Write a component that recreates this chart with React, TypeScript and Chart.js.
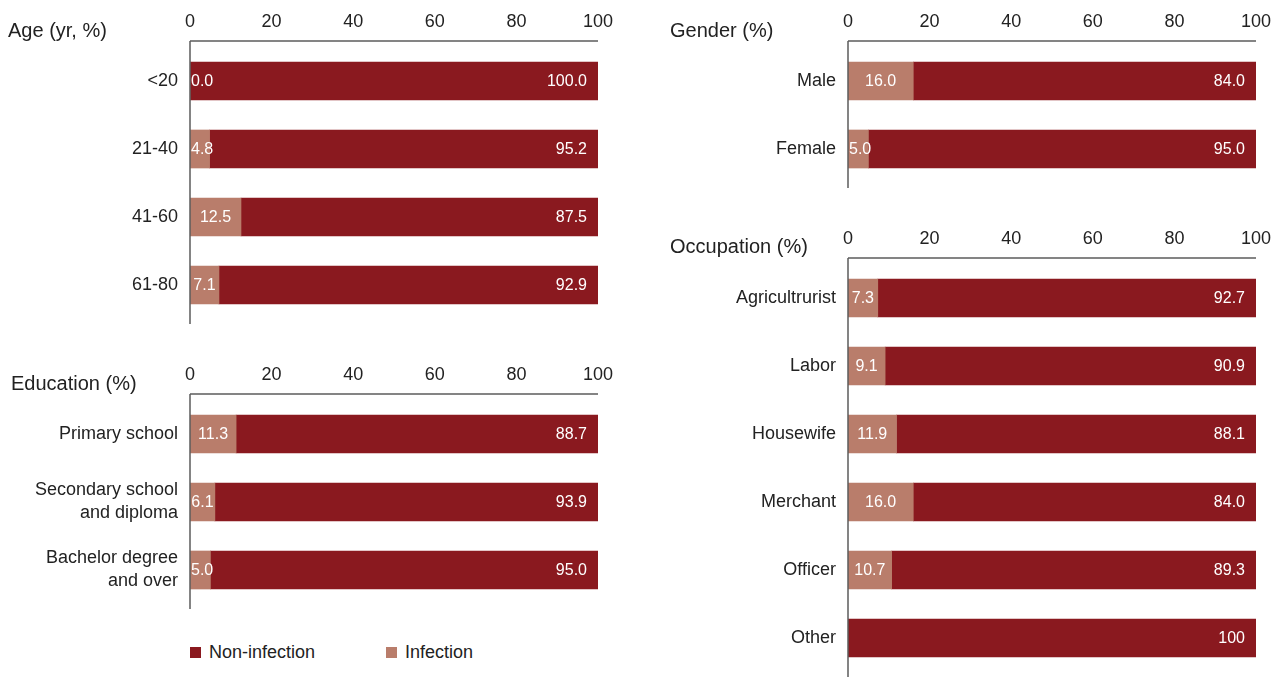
import React, { useEffect, useRef } from "react";
import { Chart, registerables } from "chart.js";

Chart.register(...registerables);

// ---------- data ----------
const xTickStep = 20;
const xMin = 0;
const xMax = 100;

const ageCategories = ["<20", "21-40", "41-60", "61-80"];
const ageInfection = [0.0, 4.8, 12.5, 7.1];
const ageNonInfection = [100.0, 95.2, 87.5, 92.9];

const genderCategories = ["Male", "Female"];
const genderInfection = [16.0, 5.0];
const genderNonInfection = [84.0, 95.0];

const educationCategories: (string | string[])[] = [
  "Primary school",
  ["Secondary school", "and diploma"],
  ["Bachelor degree", "and over"],
];
const educationInfection = [11.3, 6.1, 5.0];
const educationNonInfection = [88.7, 93.9, 95.0];

const occupationCategories = ["Agricultrurist", "Labor", "Housewife", "Merchant", "Officer", "Other"];
const occupationInfection = [7.3, 9.1, 11.9, 16.0, 10.7, null];
const occupationNonInfection = [92.7, 90.9, 88.1, 84.0, 89.3, 100];
const occupationNonInfectionLabels = ["92.7", "90.9", "88.1", "84.0", "89.3", "100"];

const legendLabels = ["Non-infection", "Infection"];

// ---------- styles ----------
const NON_INFECTION_COLOR = "#8a191f";
const INFECTION_COLOR = "#b97d6b";
const TEXT_COLOR = "#222222";
const AXIS_COLOR = "#5c5c5c";
const FONT = "'Liberation Sans', Arial, Helvetica, sans-serif";

const fmt = (arr: (number | null)[]) => arr.map((v) => (v == null ? "" : v.toFixed(1)));

type PanelDef = {
  categories: (string | string[])[];
  infection: (number | null)[];
  nonInfection: (number | null)[];
  infectionLabels: string[];
  nonInfectionLabels: string[];
  canvasLeft: number;
  canvasTop: number;
  width: number;
  height: number;
  areaLeft: number;
  areaRight: number;
  areaTop: number;
  areaBottom: number;
};

const panels: PanelDef[] = [
  {
    categories: ageCategories,
    infection: ageInfection,
    nonInfection: ageNonInfection,
    infectionLabels: fmt(ageInfection),
    nonInfectionLabels: fmt(ageNonInfection),
    canvasLeft: 0,
    canvasTop: 0,
    width: 640,
    height: 335,
    areaLeft: 190,
    areaRight: 598,
    areaTop: 47,
    areaBottom: 319,
  },
  {
    categories: educationCategories,
    infection: educationInfection,
    nonInfection: educationNonInfection,
    infectionLabels: fmt(educationInfection),
    nonInfectionLabels: fmt(educationNonInfection),
    canvasLeft: 0,
    canvasTop: 340,
    width: 640,
    height: 277,
    areaLeft: 190,
    areaRight: 598,
    areaTop: 400,
    areaBottom: 604,
  },
  {
    categories: genderCategories,
    infection: genderInfection,
    nonInfection: genderNonInfection,
    infectionLabels: fmt(genderInfection),
    nonInfectionLabels: fmt(genderNonInfection),
    canvasLeft: 640,
    canvasTop: 0,
    width: 647,
    height: 200,
    areaLeft: 848,
    areaRight: 1256,
    areaTop: 47,
    areaBottom: 183,
  },
  {
    categories: occupationCategories,
    infection: occupationInfection,
    nonInfection: occupationNonInfection,
    infectionLabels: fmt(occupationInfection),
    nonInfectionLabels: occupationNonInfectionLabels,
    canvasLeft: 640,
    canvasTop: 215,
    width: 647,
    height: 462,
    areaLeft: 848,
    areaRight: 1256,
    areaTop: 264,
    areaBottom: 672,
  },
];

const axisLinesPlugin = {
  id: "axisLines",
  afterDraw(chart: any) {
    const { ctx, chartArea } = chart;
    const { left, right, top, bottom } = chartArea;
    const lineY = top - 6;
    ctx.save();
    ctx.strokeStyle = AXIS_COLOR;
    ctx.lineWidth = 1.5;
    ctx.beginPath();
    ctx.moveTo(left, lineY);
    ctx.lineTo(right, lineY);
    ctx.moveTo(left, lineY);
    ctx.lineTo(left, bottom + 5);
    ctx.stroke();
    ctx.restore();
  },
};

const valueLabelsPlugin = {
  id: "valueLabels",
  afterDatasetsDraw(chart: any) {
    const { ctx } = chart;
    ctx.save();
    ctx.font = `16px ${FONT}`;
    ctx.fillStyle = "#ffffff";
    ctx.textBaseline = "middle";
    chart.data.datasets.forEach((ds: any, di: number) => {
      const meta = chart.getDatasetMeta(di);
      meta.data.forEach((el: any, i: number) => {
        const v = ds.data[i];
        if (v == null) return;
        const text: string = ds.valueLabels[i];
        if (!text) return;
        const { x, y, base } = el.getProps(["x", "y", "base"], true);
        if (ds.kind === "infection") {
          const w = ctx.measureText(text).width;
          let sx = (x + base) / 2 - w / 2;
          if (sx < base + 1) sx = base + 1;
          ctx.textAlign = "left";
          ctx.fillText(text, sx, y + 1);
        } else {
          ctx.textAlign = "right";
          ctx.fillText(text, x - 11, y + 1);
        }
      });
    });
    ctx.restore();
  },
};

function Panel({ p }: { p: PanelDef }) {
  const ref = useRef<HTMLCanvasElement>(null);
  useEffect(() => {
    if (!ref.current) return;
    const yAxisWidth = p.areaLeft - p.canvasLeft;
    const xAxisHeight = p.areaTop - p.canvasTop;
    const padRight = p.canvasLeft + p.width - p.areaRight;
    const padBottom = p.canvasTop + p.height - p.areaBottom;
    const chart = new Chart(ref.current, {
      type: "bar",
      data: {
        labels: p.categories as any,
        datasets: [
          {
            label: "Infection",
            kind: "infection",
            data: p.infection,
            valueLabels: p.infectionLabels,
            backgroundColor: INFECTION_COLOR,
            barThickness: 38,
          } as any,
          {
            label: "Non-infection",
            kind: "nonInfection",
            data: p.nonInfection,
            valueLabels: p.nonInfectionLabels,
            backgroundColor: NON_INFECTION_COLOR,
            barThickness: 38,
          } as any,
        ],
      },
      options: {
        indexAxis: "y",
        responsive: false,
        maintainAspectRatio: false,
        animation: false,
        layout: { padding: { left: 0, top: 0, right: padRight, bottom: padBottom } },
        plugins: {
          legend: { display: false },
          tooltip: { enabled: false },
          title: { display: false },
        },
        scales: {
          x: {
            type: "linear",
            position: "top",
            stacked: true,
            min: xMin,
            max: xMax,
            ticks: {
              stepSize: xTickStep,
              font: { family: FONT, size: 18 },
              color: TEXT_COLOR,
              padding: 14,
              maxRotation: 0,
            },
            grid: { display: false, drawTicks: false },
            border: { display: false },
            afterFit: (s: any) => {
              s.height = xAxisHeight;
              s.paddingLeft = 0;
              s.paddingRight = 0;
            },
          },
          y: {
            type: "category",
            position: "left",
            stacked: true,
            ticks: {
              font: { family: FONT, size: 18, lineHeight: 1.28 },
              color: TEXT_COLOR,
              padding: 12,
              autoSkip: false,
            },
            grid: { display: false, drawTicks: false },
            border: { display: false },
            afterFit: (s: any) => {
              s.width = yAxisWidth;
              s.paddingTop = 0;
              s.paddingBottom = 0;
            },
          },
        },
      } as any,
      plugins: [axisLinesPlugin, valueLabelsPlugin],
    });
    return () => chart.destroy();
  }, [p]);
  return (
    <canvas
      ref={ref}
      width={p.width}
      height={p.height}
      style={{ position: "absolute", left: p.canvasLeft, top: p.canvasTop, width: p.width, height: p.height }}
    />
  );
}

const titleStyle = (left: number, centerY: number): React.CSSProperties => ({
  position: "absolute",
  left,
  top: centerY - 11,
  fontFamily: FONT,
  fontSize: 20,
  lineHeight: "22px",
  color: TEXT_COLOR,
  whiteSpace: "nowrap",
});

export default function App() {
  return (
    <div
      style={{
        position: "absolute",
        left: 0,
        top: 0,
        width: 1287,
        height: 677,
        background: "#ffffff",
        overflow: "hidden",
      }}
    >
      {panels.map((p, i) => (
        <Panel key={i} p={p} />
      ))}
      <div style={titleStyle(8, 30)}>Age (yr, %)</div>
      <div style={titleStyle(11, 383)}>Education (%)</div>
      <div style={titleStyle(670, 30)}>Gender (%)</div>
      <div style={titleStyle(670, 246)}>Occupation (%)</div>
      {/* legend */}
      <div style={{ position: "absolute", left: 190, top: 647, width: 11, height: 11, background: NON_INFECTION_COLOR }} />
      <div style={{ ...titleStyle(209, 652), fontSize: 18 }}>{legendLabels[0]}</div>
      <div style={{ position: "absolute", left: 386, top: 647, width: 11, height: 11, background: INFECTION_COLOR }} />
      <div style={{ ...titleStyle(405, 652), fontSize: 18 }}>{legendLabels[1]}</div>
    </div>
  );
}
